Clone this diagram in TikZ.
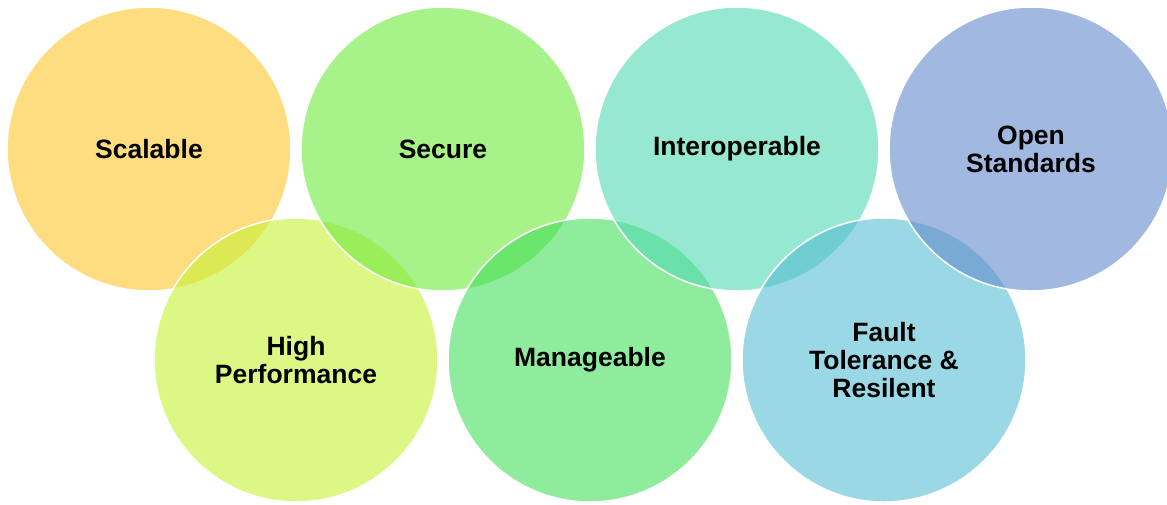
\documentclass[tikz,border=0pt]{standalone}
\usepackage{fontspec}
\setmainfont{Liberation Sans}
\definecolor{cScal}{RGB}{253,198,43}
\definecolor{cSec}{RGB}{110,233,60}
\definecolor{cInt}{RGB}{80,218,177}
\definecolor{cOpen}{RGB}{98,137,203}
\definecolor{cHigh}{RGB}{198,242,52}
\definecolor{cMan}{RGB}{68,223,90}
\definecolor{cFault}{RGB}{88,190,212}
\tikzset{
  bubble/.style={circle, minimum size=284pt, inner sep=0pt, draw=white, line width=1.5pt,
    fill opacity=0.6, text opacity=1, align=center,
    font=\fontsize{26.5}{28}\selectfont\bfseries, text=black}
}
\begin{document}
\begin{tikzpicture}[x=1pt,y=-1pt]
\useasboundingbox (0,0) rectangle (1167,504);
\node[bubble, fill=cScal] (scal) at (149,149) {Scalable};
\node[bubble, fill=cHigh] (high) at (296,360) {High\\Performance};
\node[bubble, fill=cSec] (sec) at (443,149) {Secure};
\node[bubble, fill=cMan] (man) at (590,360) {Manageable};
\node[bubble, fill=cInt] (int) at (737,149) {Interoperable};
\node[bubble, fill=cFault] (fault) at (884,360) {Fault\\Tolerance \&\\Resilent};
\node[bubble, fill=cOpen] (open) at (1031,149) {Open\\Standards};
\end{tikzpicture}
\end{document}
